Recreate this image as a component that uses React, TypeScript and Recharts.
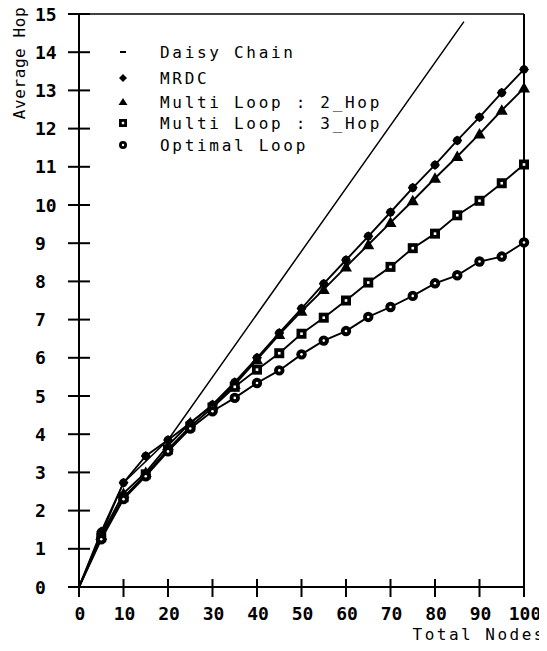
import React from "react";
import { LineChart, Line, XAxis, YAxis, ReferenceLine } from "recharts";

const nodes = [0, 5, 10, 15, 20, 25, 30, 35, 40, 45, 50, 55, 60, 65, 70, 75, 80, 85, 90, 95, 100];
const mrdc = [0, 1.45, 2.73, 3.43, 3.85, 4.29, 4.77, 5.36, 6.0, 6.65, 7.29, 7.94, 8.56, 9.18, 9.81, 10.45, 11.05, 11.69, 12.3, 12.94, 13.55];
const multi2 = [0, 1.35, 2.45, 3.0, 3.7, 4.3, 4.75, 5.3, 5.95, 6.61, 7.22, 7.79, 8.38, 8.96, 9.54, 10.11, 10.7, 11.27, 11.86, 12.48, 13.06];
const multi3 = [0, 1.3, 2.35, 2.95, 3.6, 4.2, 4.7, 5.24, 5.69, 6.12, 6.63, 7.05, 7.5, 7.97, 8.38, 8.87, 9.25, 9.73, 10.11, 10.57, 11.06];
const optimal = [0, 1.25, 2.3, 2.9, 3.55, 4.15, 4.6, 4.95, 5.34, 5.67, 6.09, 6.45, 6.7, 7.07, 7.33, 7.62, 7.95, 8.16, 8.52, 8.65, 9.02];

const daisyNodes = [0, 10, 20, 86.5];
const daisyHop = [0, 2.73, 3.85, 14.8];

const xTicks = [0, 10, 20, 30, 40, 50, 60, 70, 80, 90, 100];
const yTicks = [0, 1, 2, 3, 4, 5, 6, 7, 8, 9, 10, 11, 12, 13, 14, 15];

const legendLabels = ["Daisy Chain", "MRDC", "Multi Loop : 2_Hop", "Multi Loop : 3_Hop", "Optimal Loop"];

const data = nodes.map((n, i) => ({
  x: n,
  mrdc: mrdc[i],
  multi2: multi2[i],
  multi3: multi3[i],
  optimal: optimal[i],
}));
const daisyData = daisyNodes.map((n, i) => ({ x: n, y: daisyHop[i] }));

const FONT = "'DejaVu Sans Mono', monospace";

const Diamond = ({ cx, cy, s = 5 }: any) => (
  <g>
    <circle cx={cx} cy={cy} r={s - 0.8} fill="#000" />
    <polygon points={`${cx},${cy - s} ${cx + s},${cy} ${cx},${cy + s} ${cx - s},${cy}`} fill="#000" />
  </g>
);
const Tri = ({ cx, cy }: any) => (
  <polygon points={`${cx},${cy - 6} ${cx + 6},${cy + 4.5} ${cx - 6},${cy + 4.5}`} fill="#000" />
);
const Sq = ({ cx, cy }: any) => (
  <g>
    <rect x={cx - 5} y={cy - 5} width={10} height={10} fill="#000" />
    <rect x={cx - 1.3} y={cy - 1.3} width={2.6} height={2.6} fill="#fff" />
  </g>
);
const Circ = ({ cx, cy }: any) => (
  <g>
    <circle cx={cx} cy={cy} r={5.2} fill="#000" />
    <circle cx={cx} cy={cy} r={1.3} fill="#fff" />
  </g>
);

const makeDot = (Shape: any) => (props: any) => {
  const { cx, cy, index } = props;
  if (index === 0 || cx == null || cy == null) return <g key={`d${index}`} />;
  return (
    <g key={`d${index}`}>
      <Shape cx={cx} cy={cy} />
    </g>
  );
};

const YTick = (props: any) => {
  const { x, y, payload } = props;
  return (
    <g>
      <line x1={x - 11} x2={x + 11} y1={y} y2={y} stroke="#000" strokeWidth={2} />
      <text
        x={x - 44}
        y={y}
        dominantBaseline="central"
        textAnchor="start"
        fontFamily={FONT}
        fontSize={18}
        fontWeight="bold"
        fill="#000"
      >
        {payload.value}
      </text>
    </g>
  );
};

const XTick = (props: any) => {
  const { x, y, payload } = props;
  return (
    <g>
      <line x1={x} x2={x} y1={y - 8} y2={y + 10} stroke="#000" strokeWidth={2} />
      <text
        x={x + 1}
        y={y + 33}
        textAnchor="middle"
        fontFamily={FONT}
        fontSize={18}
        fontWeight="bold"
        fill="#000"
      >
        {payload.value}
      </text>
    </g>
  );
};

const legendRows = [52, 78, 102, 123, 145];
const legendMarkers = [
  (cx: number, cy: number) => <line x1={cx - 3} x2={cx + 3} y1={cy} y2={cy} stroke="#000" strokeWidth={2} />,
  (cx: number, cy: number) => (
    <polygon points={`${cx},${cy - 4} ${cx + 4},${cy} ${cx},${cy + 4} ${cx - 4},${cy}`} fill="#000" />
  ),
  (cx: number, cy: number) => (
    <polygon points={`${cx},${cy - 4} ${cx + 4.5},${cy + 3} ${cx - 4.5},${cy + 3}`} fill="#000" />
  ),
  (cx: number, cy: number) => (
    <g>
      <rect x={cx - 4} y={cy - 4} width={8} height={8} fill="#000" />
      <rect x={cx - 1.2} y={cy - 1.2} width={2.4} height={2.4} fill="#fff" />
    </g>
  ),
  (cx: number, cy: number) => (
    <g>
      <circle cx={cx} cy={cy} r={4} fill="#000" />
      <circle cx={cx} cy={cy} r={1.2} fill="#fff" />
    </g>
  ),
];

export default function App() {
  const W = 547;
  const H = 651;
  return (
    <div style={{ position: "relative", left: -8, top: -8, width: W, height: H, background: "#fff" }}>
      <LineChart width={W} height={H} data={data} margin={{ top: 14, right: 23, bottom: 0, left: 0 }}>
        <XAxis
          type="number"
          dataKey="x"
          domain={[0, 100]}
          ticks={xTicks}
          interval={0}
          height={64}
          tickSize={0}
          tickMargin={0}
          tick={<XTick />}
          axisLine={{ stroke: "#000", strokeWidth: 2 }}
          label={{
            content: () => (
              <text x={546} y={640} textAnchor="end" fontFamily={FONT} fontSize={16} letterSpacing={2.5} fill="#000">
                Total Nodes
              </text>
            ),
          }}
        />
        <YAxis
          type="number"
          domain={[0, 15]}
          ticks={yTicks}
          interval={0}
          width={79}
          tickSize={0}
          tickMargin={0}
          tick={<YTick />}
          axisLine={{ stroke: "#000", strokeWidth: 2 }}
          label={{
            content: () => (
              <text
                x={19}
                y={63}
                transform="rotate(-90 19 63)"
                textAnchor="middle"
                dominantBaseline="central"
                fontFamily={FONT}
                fontSize={16}
                letterSpacing={0.6}
                fill="#000"
              >
                Average Hop
              </text>
            ),
          }}
        />
        <ReferenceLine y={15} stroke="#000" strokeWidth={1.5} />
        <ReferenceLine x={100} stroke="#000" strokeWidth={2} />
        <Line data={daisyData} dataKey="y" stroke="#000" strokeWidth={1.5} dot={false} isAnimationActive={false} />
        <Line dataKey="mrdc" stroke="#000" strokeWidth={1.9} dot={makeDot(Diamond)} isAnimationActive={false} />
        <Line dataKey="multi2" stroke="#000" strokeWidth={1.9} dot={makeDot(Tri)} isAnimationActive={false} />
        <Line dataKey="multi3" stroke="#000" strokeWidth={1.9} dot={makeDot(Sq)} isAnimationActive={false} />
        <Line dataKey="optimal" stroke="#000" strokeWidth={1.9} dot={makeDot(Circ)} isAnimationActive={false} />
      </LineChart>
      <svg
        width={W}
        height={170}
        style={{ position: "absolute", left: 0, top: 0, pointerEvents: "none" }}
      >
        {legendLabels.map((lab, i) => (
          <g key={lab}>
            {legendMarkers[i](123, legendRows[i])}
            <text
              x={160}
              y={legendRows[i]}
              dominantBaseline="central"
              fontFamily={FONT}
              fontSize={16}
              letterSpacing={2.7}
              fill="#000"
            >
              {lab}
            </text>
          </g>
        ))}
      </svg>
    </div>
  );
}
